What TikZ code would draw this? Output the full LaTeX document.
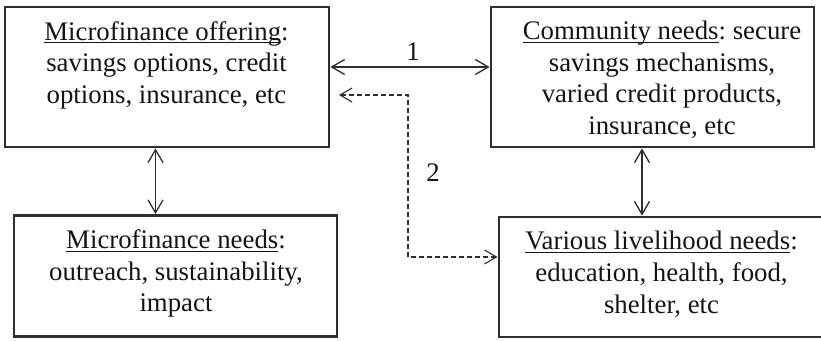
\documentclass[tikz,border=0pt]{standalone}
\usepackage{fontspec}
\setmainfont{Liberation Serif}
\newfontfamily\boxfont{Liberation Serif}
\usetikzlibrary{arrows.meta}
\newcommand{\myul}[1]{\leavevmode\setbox0\hbox{#1}\rlap{\rule[-3.2pt]{\wd0}{1.2pt}}\box0}
\definecolor{boxcol}{HTML}{2E2E2E}
\definecolor{txtcol}{HTML}{141414}
\frenchspacing
\begin{document}
\begin{tikzpicture}[x=1pt,y=-1pt,
  box/.style={draw=boxcol, line width=2.8pt, inner sep=0pt},
  txt/.style={anchor=north, inner sep=0pt, align=center, text=txtcol,
    font=\boxfont\fontsize{26.8}{31.6}\selectfont\frenchspacing},
  biarrow/.style={draw=boxcol, line width=1.3pt,
    {Straight Barb[length=13pt,width=15pt]}-{Straight Barb[length=13pt,width=15pt]}},
  dasharrow/.style={draw=boxcol, line width=1.1pt, dash pattern=on 5pt off 3pt,
    {Straight Barb[length=12pt,width=14pt]}-{Straight Barb[length=12pt,width=14pt]}},
  lbl/.style={inner sep=0pt, text=txtcol, font=\boxfont\fontsize{26.8}{31.6}\selectfont}]
\useasboundingbox (0,0) rectangle (821,340);
\clip (0,0) rectangle (821,340);

\node[box, minimum width=324pt, minimum height=140pt] (A) at (167,77) {};
\node[box, minimum width=323pt, minimum height=140pt] (B) at (652.5,77) {};
\node[box, minimum width=323pt, minimum height=121pt] (C) at (175.5,276) {};
\node[box, minimum width=324pt, minimum height=120pt] (D) at (661,277) {};

\node[txt] (At) at (166.5,21) {\myul{Microfinance offering}:\\savings options, credit\\options, insurance, etc};
\node[txt] (Bt) at (662,21) {\myul{Community needs}: secure\\savings mechanisms,\\varied credit products,\\insurance, etc};
\node[txt] (Ct) at (176,229.5) {\myul{Microfinance needs}:\\outreach, sustainability,\\impact};
\node[txt] (Dt) at (661.5,231) {\myul{Various livelihood needs}:\\education, health, food,\\shelter, etc};

\coordinate (v1) at (155.5,0);
\coordinate (v2) at (642,0);
\draw[biarrow] ([yshift=10pt]A.east) -- ([yshift=10pt]B.west);
\draw[biarrow] (A.south -| v1) -- (C.north -| v1);
\draw[biarrow] (B.south -| v2) -- (D.north -| v2);

\coordinate (d1) at (339,95);
\coordinate (dm) at (408,180);
\draw[dasharrow] (d1) -| (dm) |- ([yshift=20pt]D.west);

\node[lbl] (l1) at (413,52) {1};
\node[lbl] (l2) at (433,173) {2};
\end{tikzpicture}
\end{document}
